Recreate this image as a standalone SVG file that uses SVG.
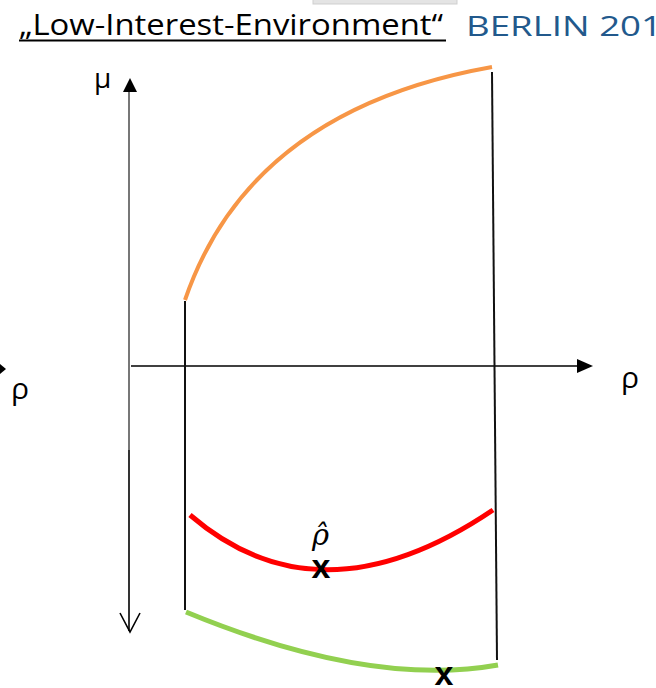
<svg xmlns="http://www.w3.org/2000/svg" width="656" height="688" viewBox="0 0 656 688">
<style>
.lab{font-family:"Open Sans","Liberation Sans",sans-serif;fill:#000}
.ax{stroke:#000;stroke-width:1.6;fill:none}
.vl{stroke:#111;stroke-width:2;fill:none}
.mk{font-family:"Liberation Sans",sans-serif;font-weight:bold;font-size:34px;fill:#000;text-anchor:middle}
</style>
<rect width="656" height="688" fill="#fff"/>
<rect x="313" y="-2" width="144" height="6" fill="#e4e4e4" stroke="#cfcfcf" stroke-width="1"/>
<g id="title">
<text class="lab" x="19" y="35" font-size="30" textLength="424" lengthAdjust="spacingAndGlyphs">„Low-Interest-Environment“</text>
<line x1="19" y1="40.5" x2="446" y2="40.5" stroke="#000" stroke-width="1.8"/>
<text x="466" y="36" font-family="Open Sans,Liberation Sans,sans-serif" font-size="28" fill="#22598c" textLength="196" lengthAdjust="spacingAndGlyphs">BERLIN 201</text>
</g>
<g id="connectors">
<path d="M129,450 V92" stroke="#555" stroke-width="1.6" fill="none"/>
<path d="M123,92 L130,78 L137,92 Z" fill="#000"/>
<path d="M129,450 V631" class="ax"/>
<path d="M120,613 L130,632 L140,613" class="ax"/>
<path d="M131,366 H580" class="ax"/>
<path d="M577,359 L593,366 L577,373 Z" fill="#000"/>
<path d="M0,364 L6,369 L0,374 Z" fill="#000"/>
<path d="M185,301 V610" class="vl"/>
<path d="M492,72 L497,660" class="vl"/>
</g>
<g id="orange-curve">
<path d="M185,300 Q250,110 492,67" stroke="#F79646" stroke-width="4" fill="none"/>
</g>
<g id="red-curve">
<path d="M190,515 Q320,627 493,510" stroke="#FF0000" stroke-width="5" fill="none"/>
<text class="mk" x="321" y="578">x</text>
<text x="312" y="545" font-family="DejaVu Serif,Liberation Serif,serif" font-style="italic" font-size="29">ρ̂</text>
</g>
<g id="green-curve">
<path d="M186,612 Q370,688 498,665" stroke="#92D050" stroke-width="5" fill="none"/>
<text class="mk" x="444" y="685">x</text>
</g>
<g id="labels">
<text class="lab" x="94" y="88" font-size="28">μ</text>
<text class="lab" x="621" y="388" font-size="30">ρ</text>
<text class="lab" x="11" y="399" font-size="30">ρ</text>
</g>
</svg>
